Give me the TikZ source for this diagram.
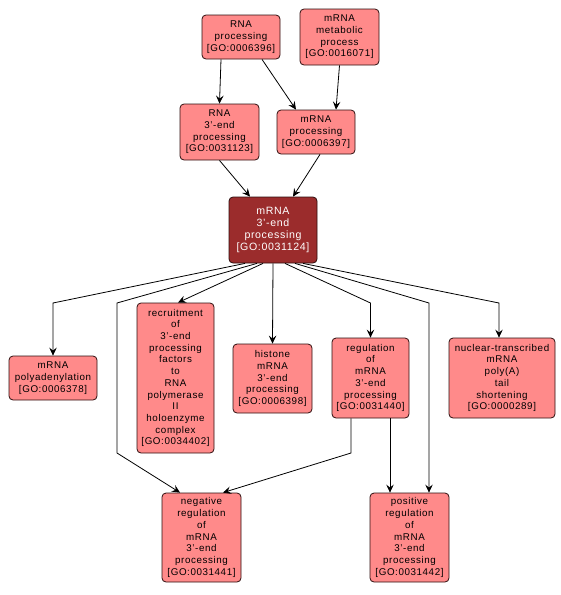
\documentclass[tikz,border=0pt]{standalone}
\usepackage{fontspec}
\setmainfont{Liberation Sans}[LetterSpace=6]
\usetikzlibrary{arrows.meta}
\definecolor{gofill}{RGB}{255,138,138}
\definecolor{gocenter}{RGB}{155,44,44}
\definecolor{goborder}{RGB}{45,15,15}
\tikzset{
  gonode/.style={draw=goborder, fill=gofill, rounded corners=4pt, line width=0.8pt,
    align=center, inner sep=0pt, font=\fontsize{9.8}{11.7}\selectfont, text=black},
  gocent/.style={gonode, fill=gocenter, text=white, font=\fontsize{10.6}{11.8}\selectfont},
  goedge/.style={draw=black, line width=0.8pt, -{Stealth[length=8pt,width=7.5pt,inset=3pt]}},
}
\begin{document}
\begin{tikzpicture}[x=1pt,y=-1pt]
\useasboundingbox (0,0) rectangle (561,595);
% nodes
\node[gonode, minimum width=78pt, minimum height=44pt] (rnap) at (241,37) {RNA\\processing\\{[GO:0006396]}};
\node[gonode, minimum width=79pt, minimum height=56pt] (mmet) at (339.5,37) {mRNA\\metabolic\\process\\{[GO:0016071]}};
\node[gonode, minimum width=79pt, minimum height=56pt] (rna3) at (219.5,132) {RNA\\3'-end\\processing\\{[GO:0031123]}};
\node[gonode, minimum width=78pt, minimum height=44pt] (mrnap) at (316,132) {mRNA\\processing\\{[GO:0006397]}};
\node[gocent, minimum width=88pt, minimum height=66pt] (m3) at (273,230) {mRNA\\3'-end\\processing\\{[GO:0031124]}};
\node[gonode, minimum width=88pt, minimum height=44pt] (poly) at (53,378) {mRNA\\polyadenylation\\{[GO:0006378]}};
\node[gonode, minimum width=77pt, minimum height=150pt] (recr) at (175.5,378) {recruitment\\of\\3'-end\\processing\\factors\\to\\RNA\\polymerase\\II\\holoenzyme\\complex\\{[GO:0034402]}};
\node[gonode, minimum width=79pt, minimum height=69pt] (hist) at (272.5,378.5) {histone\\mRNA\\3'-end\\processing\\{[GO:0006398]}};
\node[gonode, minimum width=77pt, minimum height=80pt] (reg) at (370.5,378) {regulation\\of\\mRNA\\3'-end\\processing\\{[GO:0031440]}};
\node[gonode, minimum width=106pt, minimum height=80pt] (nuc) at (502,378) {nuclear-transcribed\\mRNA\\poly(A)\\tail\\shortening\\{[GO:0000289]}};
\node[gonode, minimum width=79pt, minimum height=89pt] (neg) at (201.5,537.5) {negative\\regulation\\of\\mRNA\\3'-end\\processing\\{[GO:0031441]}};
\node[gonode, minimum width=79pt, minimum height=89pt] (pos) at (409.5,537.5) {positive\\regulation\\of\\mRNA\\3'-end\\processing\\{[GO:0031442]}};
% bend points
\coordinate (bpoly) at (53,303);
\coordinate (bneg1) at (117,303);
\coordinate (bneg2) at (117,453);
\coordinate (breg) at (370.5,303);
\coordinate (bpos) at (429,303);
\coordinate (bnuc) at (499,303);
\coordinate (brn) at (351,453);
% edges
\draw[goedge] ([xshift=-20pt]rnap.south) -- (rna3.north);
\draw[goedge] ([xshift=21pt]rnap.south) -- ([xshift=-20pt]mrnap.north);
\draw[goedge] (mmet.south) -- ([xshift=20pt]mrnap.north);
\draw[goedge] (rna3.south) -- ([xshift=-23pt]m3.north);
\draw[goedge] ([xshift=4pt]mrnap.south) -- ([xshift=20pt]m3.north);
\draw[goedge] ([xshift=-28pt]m3.south) -- (bpoly) -- (poly.north);
\draw[goedge] ([xshift=-16pt]m3.south) -- (bneg1) -- (bneg2) -- ([xshift=-21.5pt]neg.north);
\draw[goedge] ([xshift=-10pt]m3.south) -- ([xshift=2.5pt]recr.north);
\draw[goedge] (m3.south) -- (hist.north);
\draw[goedge] ([xshift=12pt]m3.south) -- (breg) -- (reg.north);
\draw[goedge] ([xshift=22pt]m3.south) -- (bpos) -- ([xshift=19.5pt]pos.north);
\draw[goedge] ([xshift=30pt]m3.south) -- (bnuc) -- ([xshift=-3pt]nuc.north);
\draw[goedge] ([xshift=-19.5pt]reg.south) -- (brn) -- ([xshift=21.5pt]neg.north);
\draw[goedge] ([xshift=19.5pt]reg.south) -- ([xshift=-19.5pt]pos.north);
\end{tikzpicture}
\end{document}
